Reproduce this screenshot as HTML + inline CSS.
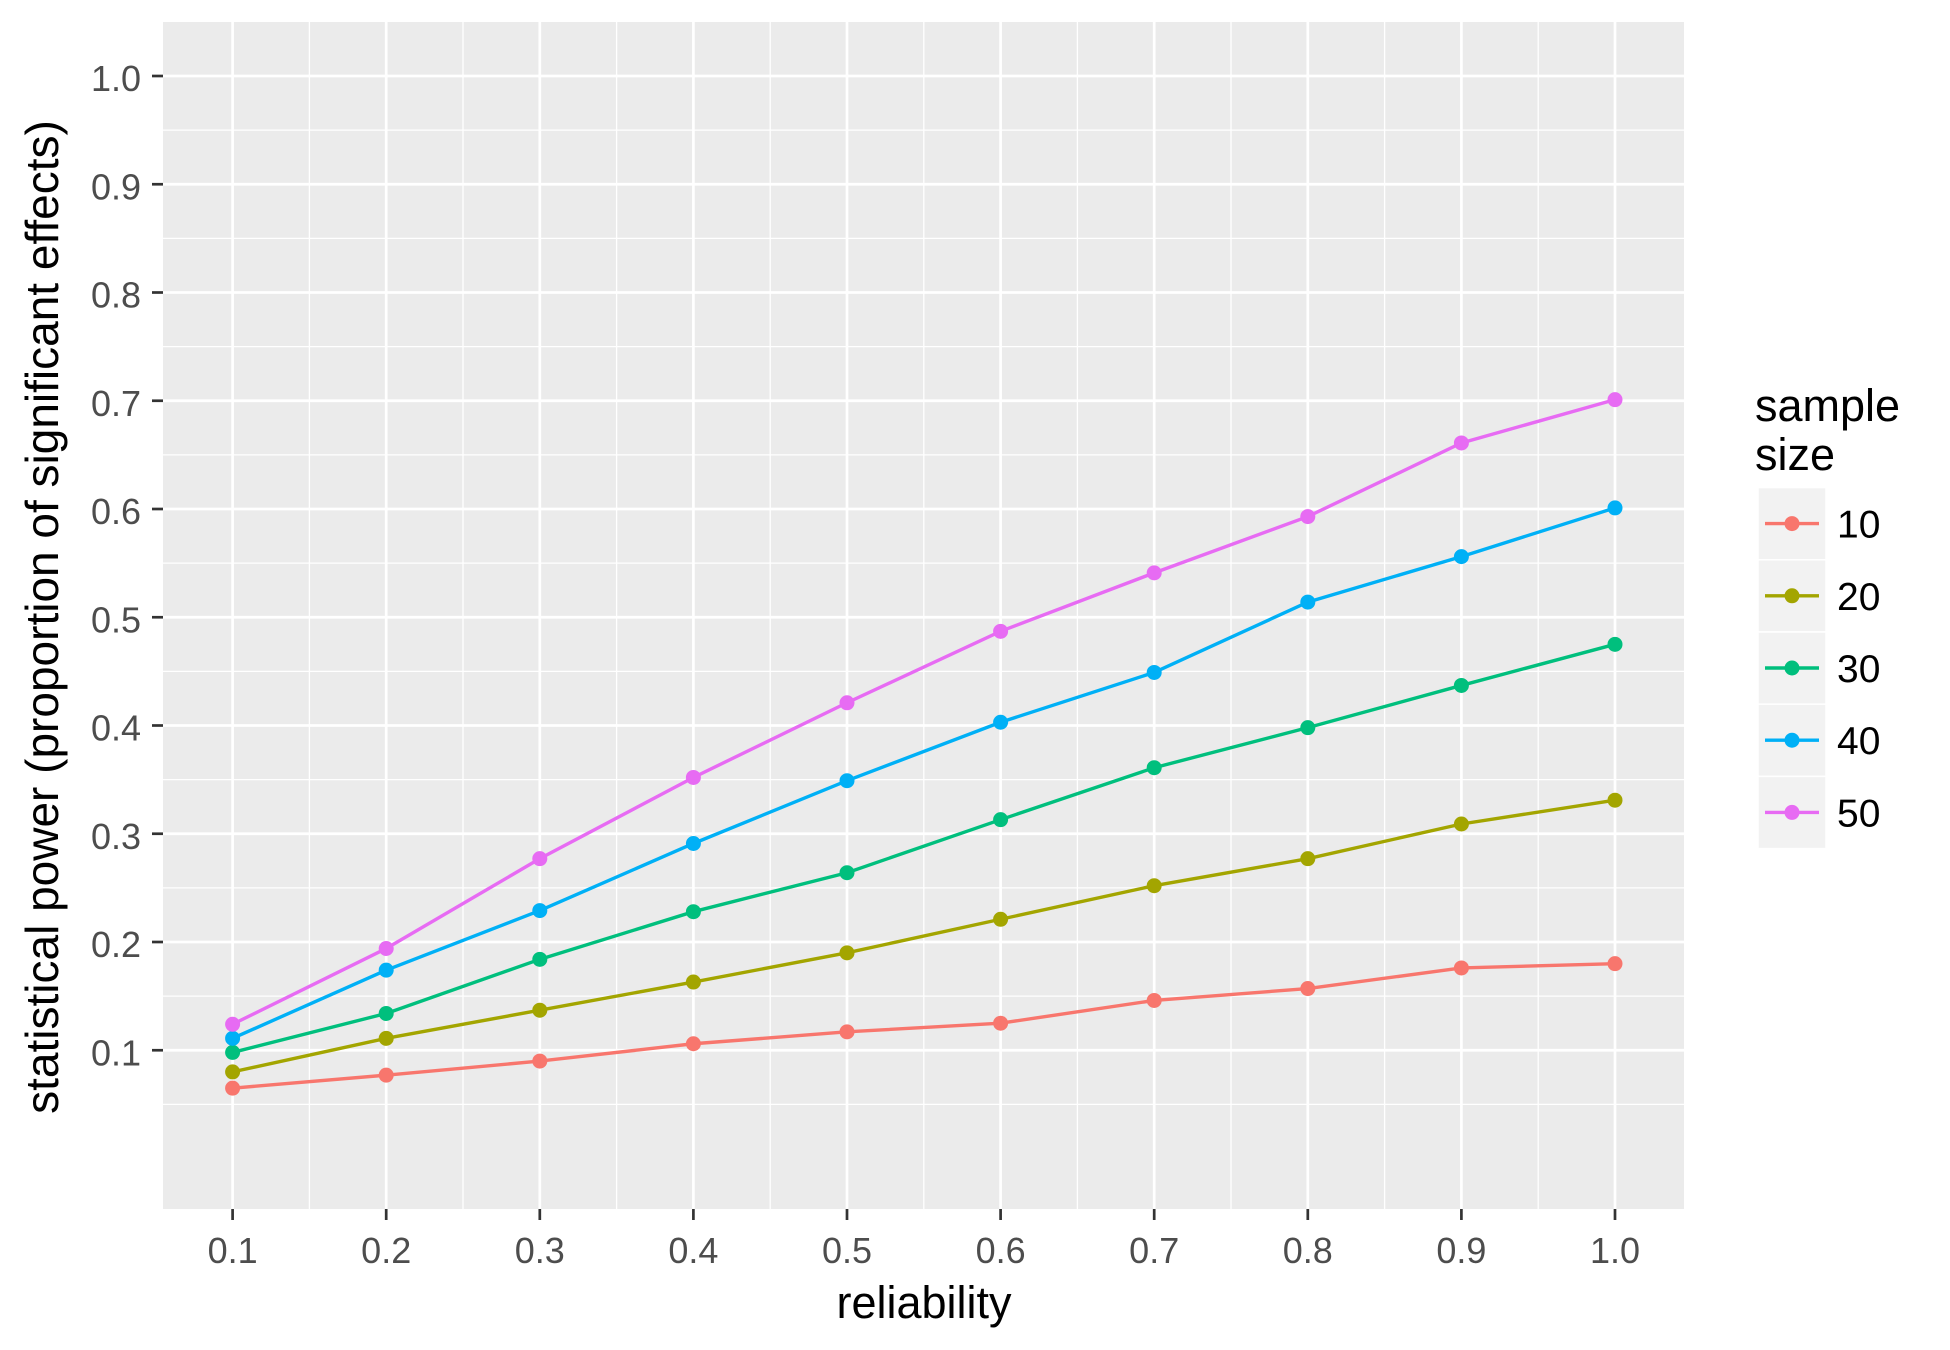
<!DOCTYPE html>
<html><head><meta charset="utf-8"><style>
html,body{margin:0;padding:0;background:#fff;}
svg{display:block;font-family:"Liberation Sans",Arial,sans-serif;}
</style></head><body>
<svg id="chart" width="1950" height="1350" viewBox="0 0 1950 1350" xmlns="http://www.w3.org/2000/svg">
<rect x="0" y="0" width="1950" height="1350" fill="#fff"/>
<rect x="163" y="22" width="1521" height="1187" fill="#ebebeb"/>
<g id="grid"></g>
<g id="series"></g>
<g id="axes"></g>
<text x="924" y="1318" font-size="45" text-anchor="middle" fill="#000">reliability</text>
<text transform="translate(58,617) rotate(-90)" font-size="46" text-anchor="middle" fill="#000">statistical power (proportion of significant effects)</text>
<g id="legend">
<text x="1755" y="421" font-size="45" fill="#000">sample</text>
<text x="1755" y="470" font-size="45" fill="#000">size</text>
</g>
</svg>
<script>
const categories = [0.1,0.2,0.3,0.4,0.5,0.6,0.7,0.8,0.9,1.0];
const seriesNames = ["10","20","30","40","50"];
const colors = ["#F8766D","#A3A500","#00BF7D","#00B0F6","#E76BF3"];
const n10 = [0.065,0.077,0.09,0.106,0.117,0.125,0.146,0.157,0.176,0.18];
const n20 = [0.08,0.111,0.137,0.163,0.19,0.221,0.252,0.277,0.309,0.331];
const n30 = [0.098,0.134,0.184,0.228,0.264,0.313,0.361,0.398,0.437,0.475];
const n40 = [0.111,0.174,0.229,0.291,0.349,0.403,0.449,0.514,0.556,0.601];
const n50 = [0.124,0.194,0.277,0.352,0.421,0.487,0.541,0.593,0.661,0.701];
const yTicks = [0.1,0.2,0.3,0.4,0.5,0.6,0.7,0.8,0.9,1.0];
const xTicks = [0.1,0.2,0.3,0.4,0.5,0.6,0.7,0.8,0.9,1.0];
const allSeries = [n10,n20,n30,n40,n50];

const NS="http://www.w3.org/2000/svg";
const PX0=163, PX1=1684, PY0=22, PY1=1209;
function xs(v){return 232.6 + (v-0.1)/0.9*(1615-232.6);}
function ys(v){return 1158.5 - v*(1158.5-76);}
function mk(tag,attrs,parent){const e=document.createElementNS(NS,tag);for(const k in attrs)e.setAttribute(k,attrs[k]);parent.appendChild(e);return e;}
const grid=document.getElementById('grid'), axes=document.getElementById('axes'), ser=document.getElementById('series'), leg=document.getElementById('legend');
for(let i=0;i<=xTicks.length;i++){const v=0.05+i*0.1;const x=xs(v);if(x>PX0&&x<PX1){const l=mk('line',{x1:x,x2:x,y1:PY0,y2:PY1,stroke:'#fff','stroke-width':1.3},grid);

}}
for(let i=-1;i<=yTicks.length;i++){const v=0.05+i*0.1;const y=ys(v);if(y>PY0&&y<PY1){const l=mk('line',{x1:PX0,x2:PX1,y1:y,y2:y,stroke:'#fff','stroke-width':1.3},grid);

}}
xTicks.forEach(v=>{const x=xs(v);const l=mk('line',{x1:x,x2:x,y1:PY0,y2:PY1,stroke:'#fff','stroke-width':2.7},grid);


const t=mk('line',{x1:x,x2:x,y1:PY1,y2:PY1+11,stroke:'#333','stroke-width':2.7},axes);


const tx=mk('text',{x:x,y:1263,'font-size':36,'text-anchor':'middle',fill:'#4d4d4d'},axes);tx.textContent=v.toFixed(1);

});
yTicks.forEach(v=>{const y=ys(v);const l=mk('line',{x1:PX0,x2:PX1,y1:y,y2:y,stroke:'#fff','stroke-width':2.7},grid);


const t=mk('line',{x1:PX0-11,x2:PX0,y1:y,y2:y,stroke:'#333','stroke-width':2.7},axes);


const tx=mk('text',{x:141,y:y+15,'font-size':36,'text-anchor':'end',fill:'#4d4d4d'},axes);tx.textContent=v.toFixed(1);

});
allSeries.forEach((vals,si)=>{const c=colors[si];
const pts=vals.map((v,i)=>xs(categories[i])+','+ys(v)).join(' ');
const pl=mk('polyline',{points:pts,fill:'none',stroke:c,'stroke-width':3.4},ser);


vals.forEach((v,i)=>{const p=mk('circle',{cx:xs(categories[i]),cy:ys(v),r:7.5,fill:c},ser);

});
const top=487.6+si*72.2;
const bg=mk('rect',{x:1758,y:top,width:68,height:72.2,fill:'#f2f2f2',stroke:'#fff','stroke-width':1.5},leg);


const ll=mk('line',{x1:1765,x2:1819,y1:top+36,y2:top+36,stroke:c,'stroke-width':3.4},leg);


const lc=mk('circle',{cx:1792,cy:top+36,r:7.5,fill:c},leg);


const lt=mk('text',{x:1837,y:top+50,'font-size':39,fill:'#000'},leg);lt.textContent=seriesNames[si];


});
</script>
</body></html>
